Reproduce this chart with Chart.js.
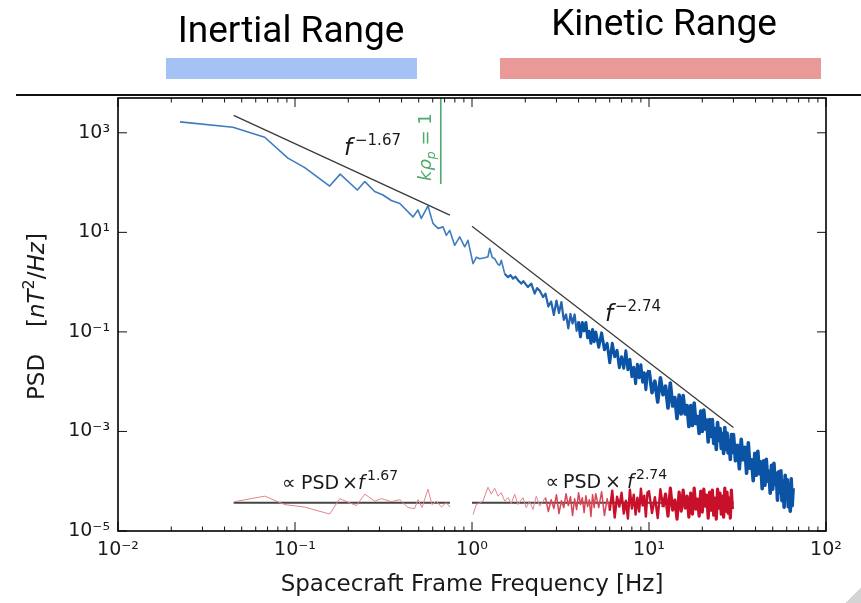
<!DOCTYPE html>
<html>
<head>
<meta charset="utf-8">
<script src="https://cdn.jsdelivr.net/npm/chart.js@4"></script>
<style>
  html, body { margin: 0; padding: 0; background: #fff; }
  body { width: 861px; height: 603px; position: relative; overflow: hidden; }
  #psdChart { position: absolute; left: 0; top: 0; }
  .rangeTitle { position: absolute; width: 400px; text-align: center; font-family: Roboto, sans-serif; font-size: 37px; line-height: 37px; color: #000; }
  .rangeBar { position: absolute; height: 21px; }
</style>
</head>
<body>
<canvas id="psdChart" width="861" height="603"></canvas>
<div class="rangeTitle" style="left:91px; top:11px;">Inertial Range</div>
<div class="rangeTitle" style="left:464px; top:4px;">Kinetic Range</div>
<div class="rangeBar" style="left:166px; top:58px; width:251px; background:#a4c2f4;"></div>
<div class="rangeBar" style="left:500px; top:58px; width:321px; background:#ea9999;"></div>
<div style="position:absolute; left:16px; right:0; top:94px; height:2px; background:#111;"></div>
<div style="position:absolute; right:0; bottom:0; width:16px; height:16px; background:linear-gradient(135deg, transparent 50%, #d4d4d4 50%);"></div>
<script>
// ticks
const xTickValues = [0.01, 0.1, 1, 10, 100];
const xTickLabels = ['10⁻²', '10⁻¹', '10⁰', '10¹', '10²'];
const yTickValues = [1e-5, 1e-3, 1e-1, 10, 1000];
const yTickLabels = ['10⁻⁵', '10⁻³', '10⁻¹', '10¹', '10³'];

// PSD (blue), low frequency part, read point by point  -- values are log10(PSD)
const psdFreqLow = [0.0224, 0.0446, 0.0674, 0.0912, 0.1135, 0.157, 0.180, 0.225, 0.248, 0.282, 0.314, 0.350, 0.391, 0.464, 0.495, 0.517, 0.564, 0.602, 0.643, 0.686, 0.716, 0.748, 0.798, 0.852, 0.910, 0.949,
  1.013, 1.06, 1.105, 1.18, 1.231, 1.259, 1.30, 1.343, 1.40, 1.434, 1.464, 1.53, 1.598, 1.65, 1.705, 1.76, 1.819, 1.898, 1.95, 2.071, 2.164, 2.26, 2.33, 2.412, 2.519];
const psdLogLow = [3.22, 3.11, 2.91, 2.49, 2.30, 1.93, 2.17, 1.85, 2.02, 1.82, 1.75, 1.64, 1.58, 1.31, 1.45, 1.28, 1.53, 1.18, 1.08, 1.11, 0.94, 1.04, 0.74, 0.91, 0.71, 0.84,
  0.37, 0.50, 0.47, 0.49, 0.51, 0.68, 0.50, 0.47, 0.36, 0.34, 0.44, 0.17, 0.10, 0.14, 0.07, 0.11, 0.04, -0.03, 0.02, -0.10, -0.03, -0.23, -0.12, -0.17, -0.30];

// dense kinetic range frequencies (Hz)
const kinFreq = [2.6, 2.7, 2.8, 2.9, 3.0, 3.1, 3.2, 3.3, 3.4, 3.5, 3.6, 3.7, 3.8, 3.9, 4.0, 4.1, 4.2, 4.3, 4.4, 4.5, 4.6, 4.7, 4.8, 4.9,
  5.0, 5.2, 5.4, 5.6, 5.8, 6.0, 6.2, 6.4, 6.6, 6.8, 7.0, 7.2, 7.4, 7.6, 7.8, 8.0, 8.2, 8.4, 8.6, 8.8, 9.0, 9.2, 9.4, 9.6, 9.8,
  10.0, 10.4, 10.8, 11.2, 11.6, 12.0, 12.4, 12.8, 13.2, 13.6, 14.0, 14.4, 14.8, 15.2, 15.6, 16.0, 16.4, 16.8, 17.2, 17.6, 18.0, 18.4, 18.8, 19.2, 19.6,
  20.0, 20.4, 20.8, 21.2, 21.6, 22.0, 22.4, 22.8, 23.2, 23.6, 24.0, 24.4, 24.8, 25.2, 25.6, 26.0, 26.4, 26.8, 27.2, 27.6, 28.0, 28.4, 28.8, 29.2, 29.6,
  30.0, 30.8, 31.6, 32.4, 33.2, 34.0, 34.8, 35.6, 36.4, 37.2, 38.0, 38.8, 39.6, 40.4, 41.2, 42.0, 42.8, 43.6, 44.4, 45.2, 46.0, 46.8, 47.6, 48.4, 49.2,
  50.0, 50.8, 51.6, 52.4, 53.2, 54.0, 54.8, 55.6, 56.4, 57.2, 58.0, 58.8, 59.6, 60.4, 61.2, 62.0, 62.8, 63.6, 64.4, 65.2];
const psdLogKin = [-0.23, -0.49, -0.39, -0.66, -0.37, -0.62, -0.40, -0.76, -0.65, -0.93, -0.64, -0.83, -0.65, -0.98, -0.79, -1.10, -0.81, -0.98, -0.81, -1.12, -0.99, -1.23, -0.95, -1.20,
  -1.00, -1.31, -1.02, -1.36, -1.23, -1.62, -1.23, -1.50, -1.37, -1.72, -1.50, -1.73, -1.38, -1.76, -1.55, -1.90, -1.71, -2.04, -1.65, -1.92, -1.66, -2.01, -1.82, -2.16, -1.83,
  -1.77, -2.22, -1.99, -2.41, -1.92, -2.26, -2.09, -2.53, -2.03, -2.49, -2.32, -2.74, -2.27, -2.65, -2.28, -2.65, -2.48, -2.90, -2.48, -2.88,
  -2.43, -2.84, -2.70, -3.04, -2.59, -3.00, -2.57, -2.95, -2.77, -3.21, -2.76, -3.10, -2.76, -3.24, -2.94, -3.36, -2.82, -3.18, -2.94, -3.34,
  -3.04, -3.44, -2.92, -3.36, -3.03, -3.43, -3.19, -3.56, -3.06, -3.42,
  -3.06, -3.59, -3.28, -3.75, -3.16, -3.57, -3.32, -3.84, -3.23, -3.74, -3.57, -3.99, -3.44, -3.88, -3.40, -3.85, -3.61, -4.15, -3.59, -4.08,
  -3.56, -4.00, -3.80, -4.24, -3.68, -4.16, -3.64, -4.06, -3.84, -4.38, -3.81, -4.23, -3.79, -4.39, -4.00, -4.52, -3.88, -4.27, -3.97, -4.51,
  -4.06, -4.60, -3.95, -4.49, -4.14];

// compensated spectra (red), log10 of PSD x f^a (arbitrary units)
const compFreqLow = [0.0456, 0.0674, 0.0875, 0.1135, 0.157, 0.179, 0.222, 0.248, 0.282, 0.308, 0.350, 0.391, 0.435, 0.474, 0.496, 0.522, 0.564, 0.594, 0.628, 0.671, 0.716, 0.751];
const compLogLow = [-4.41, -4.30, -4.47, -4.52, -4.66, -4.35, -4.49, -4.26, -4.40, -4.35, -4.41, -4.37, -4.53, -4.55, -4.37, -4.53, -4.16, -4.47, -4.40, -4.52, -4.43, -4.52];
const compFreqKinLow = [1.013, 1.057, 1.154, 1.231, 1.285, 1.343, 1.402, 1.464, 1.530, 1.598, 1.667, 1.742, 1.819, 1.940, 2.025, 2.116, 2.210, 2.307, 2.412, 2.519];
const compLogKinLow = [-4.67, -4.47, -4.40, -4.12, -4.26, -4.14, -4.30, -4.23, -4.40, -4.33, -4.45, -4.26, -4.47, -4.33, -4.53, -4.40, -4.57, -4.30, -4.50, -4.40];
// same frequencies as kinFreq, up to 29.6 Hz
const compLogKin = [-4.33, -4.61, -4.37, -4.55, -4.27, -4.65, -4.39, -4.53, -4.25, -4.49, -4.31, -4.69, -4.35, -4.57, -4.23, -4.47, -4.33, -4.63, -4.29, -4.51, -4.37, -4.71, -4.27, -4.53,
  -4.25, -4.53, -4.21, -4.69, -4.35, -4.59, -4.19, -4.73, -4.31, -4.51, -4.23, -4.65, -4.39, -4.75, -4.17, -4.55, -4.27, -4.67, -4.33, -4.61, -4.15, -4.49, -4.29, -4.71, -4.23,
  -4.20, -4.64, -4.32, -4.74, -4.16, -4.52, -4.26, -4.70, -4.14, -4.58, -4.38, -4.76, -4.22, -4.60, -4.18, -4.54, -4.30, -4.72, -4.24, -4.66,
  -4.14, -4.56, -4.36, -4.70, -4.20, -4.62, -4.16, -4.50, -4.28, -4.74, -4.22, -4.58, -4.18, -4.68, -4.34, -4.76, -4.16, -4.54, -4.24, -4.66,
  -4.30, -4.72, -4.14, -4.60, -4.22, -4.64, -4.34, -4.74, -4.18, -4.56];

// fits and reference lines
const fitInertialFreq = [0.045, 0.75];
const fitInertialPsd = [2240, 22.2];
const fitKineticFreq = [1.0, 30];
const fitKineticPsd = [13.3, 1.2e-3];
const flatInertialFreq = [0.045, 0.75];
const flatKineticFreq = [1.0, 30];
const flatLevel = 3.7e-5;
const kRhoFreq = 0.666;
const kRhoPsd = [5000, 94];

function logPoints(fs, ls) {
  const n = Math.min(fs.length, ls.length);
  const out = [];
  for (let i = 0; i < n; i++) out.push({ x: fs[i], y: Math.pow(10, ls[i]) });
  return out;
}
function linePoints(fs, ys) {
  return fs.map((f, i) => ({ x: f, y: ys[i] }));
}
function tickLabel(values, labels, v) {
  const i = values.findIndex(t => Math.abs(Math.log10(t) - Math.log10(v)) < 1e-6);
  return i >= 0 ? labels[i] : '';
}

const psdData = logPoints(psdFreqLow, psdLogLow).concat(logPoints(kinFreq, psdLogKin));
const compLow = logPoints(compFreqLow, compLogLow);
const compKin = logPoints(compFreqKinLow, compLogKinLow).concat(logPoints(kinFreq, compLogKin));

// draws a run of text pieces (for the math-like labels)
function drawParts(ctx, x, y, parts) {
  parts.forEach(p => {
    ctx.font = (p.italic ? 'italic ' : '') + p.size + 'px "DejaVu Sans"';
    const px = (p.at !== undefined) ? p.at : x;
    ctx.fillText(p.text, px, y + (p.dy || 0));
    x = px + ctx.measureText(p.text).width;
  });
}

const decor = {
  id: 'decor',
  afterDraw(chart) {
    const ctx = chart.ctx, a = chart.chartArea;
    const xs = chart.scales.x, ys = chart.scales.y;
    ctx.save();
    // inward ticks
    ctx.strokeStyle = '#111';
    ctx.lineWidth = 1;
    ctx.beginPath();
    xTickValues.forEach(v => {
      const p = xs.getPixelForValue(v);
      ctx.moveTo(p, a.bottom); ctx.lineTo(p, a.bottom - 9);
      ctx.moveTo(p, a.top); ctx.lineTo(p, a.top + 9);
    });
    xTickValues.slice(0, -1).forEach(d => {
      for (let m = 2; m < 10; m++) {
        const p = xs.getPixelForValue(d * m);
        ctx.moveTo(p, a.bottom); ctx.lineTo(p, a.bottom - 4.5);
        ctx.moveTo(p, a.top); ctx.lineTo(p, a.top + 4.5);
      }
    });
    yTickValues.forEach(v => {
      const p = ys.getPixelForValue(v);
      ctx.moveTo(a.left, p); ctx.lineTo(a.left + 9, p);
      ctx.moveTo(a.right, p); ctx.lineTo(a.right - 9, p);
    });
    ctx.stroke();
    ctx.lineWidth = 1.6;
    ctx.strokeStyle = '#000';
    ctx.strokeRect(a.left, a.top, a.right - a.left, a.bottom - a.top);

    // annotations
    ctx.fillStyle = '#1a1a1a';
    ctx.textBaseline = 'alphabetic';
    ctx.textAlign = 'left';
    drawParts(ctx, 344, 155, [
      { text: 'f', italic: true, size: 23 },
      { text: '−1.67', size: 15, dy: -10, at: 355 }
    ]);
    drawParts(ctx, 605, 321, [
      { text: 'f', italic: true, size: 23 },
      { text: '−2.74', size: 15, dy: -10.5, at: 615 }
    ]);
    drawParts(ctx, 282, 489, [
      { text: '∝', size: 19 },
      { text: 'PSD', size: 19, at: 301 },
      { text: '×', size: 19, at: 342 },
      { text: 'f', italic: true, size: 19, at: 358 },
      { text: '1.67', size: 14, dy: -9, at: 367 }
    ]);
    drawParts(ctx, 545.5, 488, [
      { text: '∝', size: 19 },
      { text: 'PSD', size: 19, at: 563 },
      { text: '×', size: 19, at: 605 },
      { text: 'f', italic: true, size: 19, at: 627 },
      { text: '2.74', size: 14, dy: -9, at: 636 }
    ]);

    // k rho_p = 1 (rotated, green)
    ctx.save();
    ctx.fillStyle = '#4fa86c';
    ctx.translate(431, 181);
    ctx.rotate(-Math.PI / 2);
    drawParts(ctx, 0, 0, [
      { text: 'kρ', italic: true, size: 18 },
      { text: 'p', italic: true, size: 12.5, dy: 4 },
      { text: ' = 1', size: 18 }
    ]);
    ctx.restore();

    // y axis title
    ctx.save();
    ctx.fillStyle = '#1a1a1a';
    ctx.translate(44, 400);
    ctx.rotate(-Math.PI / 2);
    drawParts(ctx, 0, 0, [
      { text: 'PSD', size: 23 },
      { text: '[', size: 23, at: 73 },
      { text: 'nT', italic: true, size: 23 },
      { text: '2', size: 16, dy: -10 },
      { text: '/', size: 23 },
      { text: 'Hz', italic: true, size: 23 },
      { text: ']', size: 23 }
    ]);
    ctx.restore();
    ctx.restore();
  }
};

Chart.defaults.font.family = '"DejaVu Sans"';

new Chart(document.getElementById('psdChart'), {
  type: 'line',
  data: {
    datasets: [
      {
        data: linePoints([kRhoFreq, kRhoFreq], kRhoPsd),
        borderColor: '#4fa86c', borderWidth: 1.6, pointRadius: 0, order: 1
      },
      {
        data: linePoints(fitInertialFreq, fitInertialPsd),
        borderColor: '#3a3a3a', borderWidth: 1.3, pointRadius: 0, order: 2
      },
      {
        data: linePoints(fitKineticFreq, fitKineticPsd),
        borderColor: '#3a3a3a', borderWidth: 1.3, pointRadius: 0, order: 2
      },
      {
        data: psdData,
        borderWidth: 1.6, pointRadius: 0, tension: 0, order: 3,
        borderColor: '#0b53a5', borderJoinStyle: 'round',
        segment: {
          borderColor: c => c.p0.parsed.x < 1.5 ? '#3d7cc0' : (c.p0.parsed.x < 4 ? '#2464ad' : '#0b53a5'),
          borderWidth: c => c.p0.parsed.x < 1.5 ? 1.6 : (c.p0.parsed.x < 4 ? 2.2 : (c.p0.parsed.x < 10 ? 3 : 3.6))
        }
      },
      {
        data: compKin,
        borderWidth: 1.2, pointRadius: 0, tension: 0, order: 4,
        borderColor: '#c8102a', borderJoinStyle: 'round',
        segment: {
          borderColor: c => c.p0.parsed.x < 2.6 ? '#e3848d' : (c.p0.parsed.x < 6 ? '#da4655' : '#c8102a'),
          borderWidth: c => c.p0.parsed.x < 2.6 ? 1 : (c.p0.parsed.x < 6 ? 1.5 : (c.p0.parsed.x < 12 ? 2.4 : 3.2))
        }
      },
      {
        data: compLow,
        borderColor: '#e3848d', borderWidth: 1, pointRadius: 0, tension: 0, order: 4
      },
      {
        data: linePoints(flatInertialFreq, [flatLevel, flatLevel]),
        borderColor: '#444', borderWidth: 2, pointRadius: 0, order: 5
      },
      {
        data: linePoints(flatKineticFreq, [flatLevel, flatLevel]),
        borderColor: '#444', borderWidth: 2, pointRadius: 0, order: 5
      }
    ]
  },
  options: {
    responsive: false,
    animation: false,
    events: [],
    layout: { padding: { top: 98, right: 35, left: 0, bottom: 0 } },
    plugins: { legend: { display: false }, tooltip: { enabled: false } },
    scales: {
      x: {
        type: 'logarithmic', min: 0.01, max: 100,
        afterBuildTicks: s => { s.ticks = xTickValues.map(v => ({ value: v })); },
        afterFit: s => { s.height = 72; },
        grid: { display: false, drawTicks: false },
        border: { display: false },
        ticks: {
          font: { size: 19 }, color: '#1a1a1a', padding: 8, maxRotation: 0, autoSkip: false,
          callback: v => tickLabel(xTickValues, xTickLabels, v)
        },
        title: {
          display: true, text: 'Spacecraft Frame Frequency [Hz]',
          font: { size: 23 }, color: '#1a1a1a', padding: { top: 0, bottom: 4 }
        }
      },
      y: {
        type: 'logarithmic', min: 1e-5, max: 5000,
        afterBuildTicks: s => { s.ticks = yTickValues.map(v => ({ value: v })); },
        afterFit: s => { s.width = 118; },
        grid: { display: false, drawTicks: false },
        border: { display: false },
        ticks: {
          font: { size: 19 }, color: '#1a1a1a', padding: 8, autoSkip: false,
          callback: v => tickLabel(yTickValues, yTickLabels, v)
        }
      }
    }
  },
  plugins: [decor]
});
</script>
</body>
</html>
